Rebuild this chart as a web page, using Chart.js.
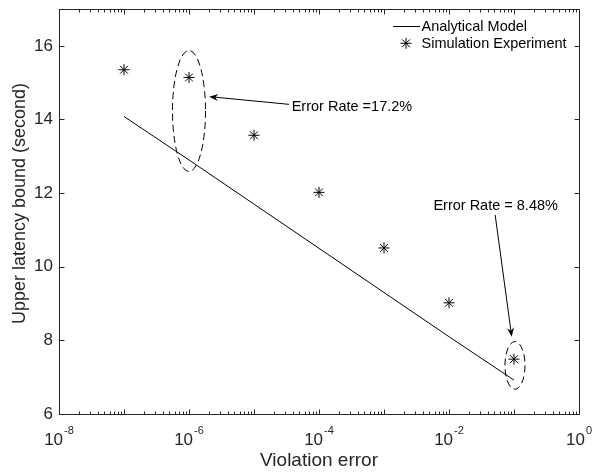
<!DOCTYPE html>
<html><head><meta charset="utf-8">
<script src="https://cdn.jsdelivr.net/npm/chart.js@4/dist/chart.umd.min.js"></script>
<style>html,body{margin:0;padding:0;background:#fff}canvas{display:block}</style>
</head><body>
<canvas id="c" width="595" height="472"></canvas>
<script>
// ---- data ----
const violationError = [1e-7, 1e-6, 1e-5, 1e-4, 1e-3, 1e-2, 1e-1];
const analyticalModel = [14.08, 12.9, 11.7, 10.5, 9.3, 8.1, 6.92];
const simulationExperiment = [15.35, 15.14, 13.57, 12.02, 10.51, 9.02, 7.49];
const xTickExponents = [-8, -6, -4, -2, 0];
const yTickValues = [6, 8, 10, 12, 14, 16];
const seriesNames = ['Analytical Model', 'Simulation Experiment'];
const annotationTexts = ['Error Rate =17.2%', 'Error Rate = 8.48%'];
const xTitle = 'Violation error';
const yTitle = 'Upper latency bound (second)';

// annotation geometry (x in log10 units, y in data units)
const notes = [
  {text: annotationTexts[0], textAt: [-4.42, 14.22], tail: [-4.46, 14.41], tip: [-5.69, 14.62],
   ell: {c: [-6.0, 14.23], rx: 0.254, ry: 1.644}},
  {text: annotationTexts[1], textAt: [-2.24, 11.54], tail: [-1.29, 11.41], tip: [-1.035, 8.10],
   ell: {c: [-0.985, 7.32], rx: 0.154, ry: 0.647}}
];

const FONT = '"Liberation Sans", Arial, Helvetica, sans-serif';
const AXC = '#262626';

const pts = (ys) => violationError.map((x, i) => ({x: x, y: ys[i]}));

const decorPlugin = {
  id: 'decor',
  afterDatasetsDraw(chart) {
    const ctx = chart.ctx;
    const xs = chart.scales.x, ys = chart.scales.y;
    const a = chart.chartArea;
    const L = Math.round(a.left) + 0.5, R = Math.round(a.right) + 0.5;
    const T = Math.round(a.top) + 0.5, B = Math.round(a.bottom) + 0.5;
    ctx.save();
    ctx.strokeStyle = AXC; ctx.lineWidth = 1;
    // ticks
    ctx.beginPath();
    const minE = xTickExponents[0], maxE = xTickExponents[xTickExponents.length - 1];
    for (let e = minE; e <= maxE; e++) {
      for (let m = 1; m <= 9; m++) {
        const v = m * Math.pow(10, e);
        if (v > Math.pow(10, maxE) * 1.0001) break;
        const px = Math.round(xs.getPixelForValue(v)) + 0.5;
        const len = (m === 1) ? 5 : 3;
        ctx.moveTo(px, B); ctx.lineTo(px, B - len);
        ctx.moveTo(px, T); ctx.lineTo(px, T + len);
      }
    }
    yTickValues.forEach(v => {
      const py = Math.round(ys.getPixelForValue(v)) + 0.5;
      ctx.moveTo(L, py); ctx.lineTo(L + 5, py);
      ctx.moveTo(R, py); ctx.lineTo(R - 5, py);
    });
    ctx.stroke();
    // box
    ctx.strokeRect(L, T, R - L, B - T);

    // x tick labels with superscript exponents
    ctx.fillStyle = AXC;
    ctx.textBaseline = 'alphabetic';
    xTickExponents.forEach(e => {
      const px = xs.getPixelForValue(Math.pow(10, e));
      ctx.font = '17px ' + FONT;
      const wBase = ctx.measureText('10').width;
      ctx.font = '11px ' + FONT;
      const sup = String(e);
      const wSup = ctx.measureText(sup).width;
      const x0 = px - (wBase + 1 + wSup) / 2;
      ctx.font = '17px ' + FONT;
      ctx.textAlign = 'left';
      ctx.fillText('10', x0, B + 30.5);
      ctx.font = '11px ' + FONT;
      ctx.fillText(sup, x0 + wBase + 1, B + 19.5);
    });

    // y axis title
    ctx.save();
    ctx.translate(20, (a.top + a.bottom) / 2 - 8);
    ctx.rotate(-Math.PI / 2);
    ctx.font = '18px ' + FONT;
    ctx.textAlign = 'center'; ctx.textBaseline = 'middle';
    ctx.fillStyle = AXC;
    ctx.fillText(yTitle, 0, 0);
    ctx.restore();

    // annotations
    const X = (l) => xs.getPixelForValue(Math.pow(10, l));
    const Y = (v) => ys.getPixelForValue(v);
    ctx.strokeStyle = '#000'; ctx.fillStyle = '#000';
    notes.forEach(n => {
      const cx = X(n.ell.c[0]), cy = Y(n.ell.c[1]);
      const rx = X(n.ell.c[0] + n.ell.rx) - cx;
      const ry = Y(n.ell.c[1] - n.ell.ry) - cy;
      ctx.save();
      ctx.setLineDash([7, 4]);
      ctx.beginPath();
      ctx.ellipse(cx, cy, rx, ry, 0, 0, Math.PI * 2);
      ctx.stroke();
      ctx.restore();
      const x1 = X(n.tail[0]), y1 = Y(n.tail[1]);
      const x2 = X(n.tip[0]), y2 = Y(n.tip[1]);
      const ang = Math.atan2(y2 - y1, x2 - x1);
      const hl = 9, hw = 3.5;
      const bx = x2 - Math.cos(ang) * hl, by = y2 - Math.sin(ang) * hl;
      ctx.beginPath();
      ctx.moveTo(x1, y1); ctx.lineTo(x2 - Math.cos(ang) * 5, y2 - Math.sin(ang) * 5);
      ctx.stroke();
      ctx.beginPath();
      ctx.moveTo(x2, y2);
      ctx.lineTo(bx - Math.sin(ang) * hw, by + Math.cos(ang) * hw);
      ctx.lineTo(x2 - Math.cos(ang) * 6, y2 - Math.sin(ang) * 6);
      ctx.lineTo(bx + Math.sin(ang) * hw, by - Math.cos(ang) * hw);
      ctx.closePath();
      ctx.fill();
      ctx.font = '14.5px ' + FONT;
      ctx.textAlign = 'left';
      ctx.textBaseline = 'alphabetic';
      ctx.fillText(n.text, X(n.textAt[0]), Y(n.textAt[1]));
    });

    // legend
    const ds = chart.data.datasets;
    const lx = a.right - 186, tx = a.right - 157.5;
    ctx.font = '14.5px ' + FONT;
    ctx.textAlign = 'left'; ctx.textBaseline = 'alphabetic';
    ctx.fillStyle = '#000';
    ctx.strokeStyle = ds[0].borderColor; ctx.lineWidth = 1;
    ctx.beginPath(); ctx.moveTo(lx, Math.round(a.top + 17) + 0.5); ctx.lineTo(lx + 27, Math.round(a.top + 17) + 0.5); ctx.stroke();
    ctx.fillText(ds[0].label, tx, a.top + 22);
    Chart.helpers.drawPoint(ctx, {pointStyle: 'star', radius: 5.5, borderWidth: 1}, lx + 13, a.top + 34.3);
    ctx.fillText(ds[1].label, tx, a.top + 38.5);
    ctx.restore();
  }
};

new Chart(document.getElementById('c'), {
  type: 'scatter',
  data: {
    datasets: [
      {label: seriesNames[0], data: pts(analyticalModel), showLine: true,
       borderColor: '#000', borderWidth: 1, pointRadius: 0, fill: false, tension: 0},
      {label: seriesNames[1], data: pts(simulationExperiment), showLine: false,
       pointStyle: 'star', pointRadius: 5.5, pointHoverRadius: 5.5,
       borderColor: '#000', backgroundColor: '#000', pointBorderWidth: 1}
    ]
  },
  options: {
    responsive: false, animation: false, devicePixelRatio: 1,
    layout: {padding: {top: 9, right: 16, left: 0, bottom: 0}},
    plugins: {legend: {display: false}, tooltip: {enabled: false}},
    scales: {
      x: {
        type: 'logarithmic', position: 'bottom',
        min: Math.pow(10, xTickExponents[0]),
        max: Math.pow(10, xTickExponents[xTickExponents.length - 1]),
        afterBuildTicks: s => { s.ticks = xTickExponents.map(e => ({value: Math.pow(10, e)})); },
        afterFit: s => { s.height = 58; s.paddingLeft = 0; s.paddingRight = 0; },
        ticks: {display: false},
        grid: {display: false, drawTicks: false},
        border: {display: false},
        title: {display: true, text: xTitle, color: AXC,
                font: {family: FONT, size: 19}, padding: {top: 0, bottom: 0}}
      },
      y: {
        type: 'linear', position: 'left', min: 6, max: 17,
        afterBuildTicks: s => { s.ticks = yTickValues.map(v => ({value: v})); },
        afterFit: s => { s.width = 59; s.paddingTop = 0; s.paddingBottom = 0; },
        ticks: {color: AXC, font: {family: FONT, size: 17}, padding: 6,
                callback: v => String(v)},
        grid: {display: false, drawTicks: false},
        border: {display: false},
        title: {display: false}
      }
    }
  },
  plugins: [decorPlugin]
});
</script>
</body></html>
